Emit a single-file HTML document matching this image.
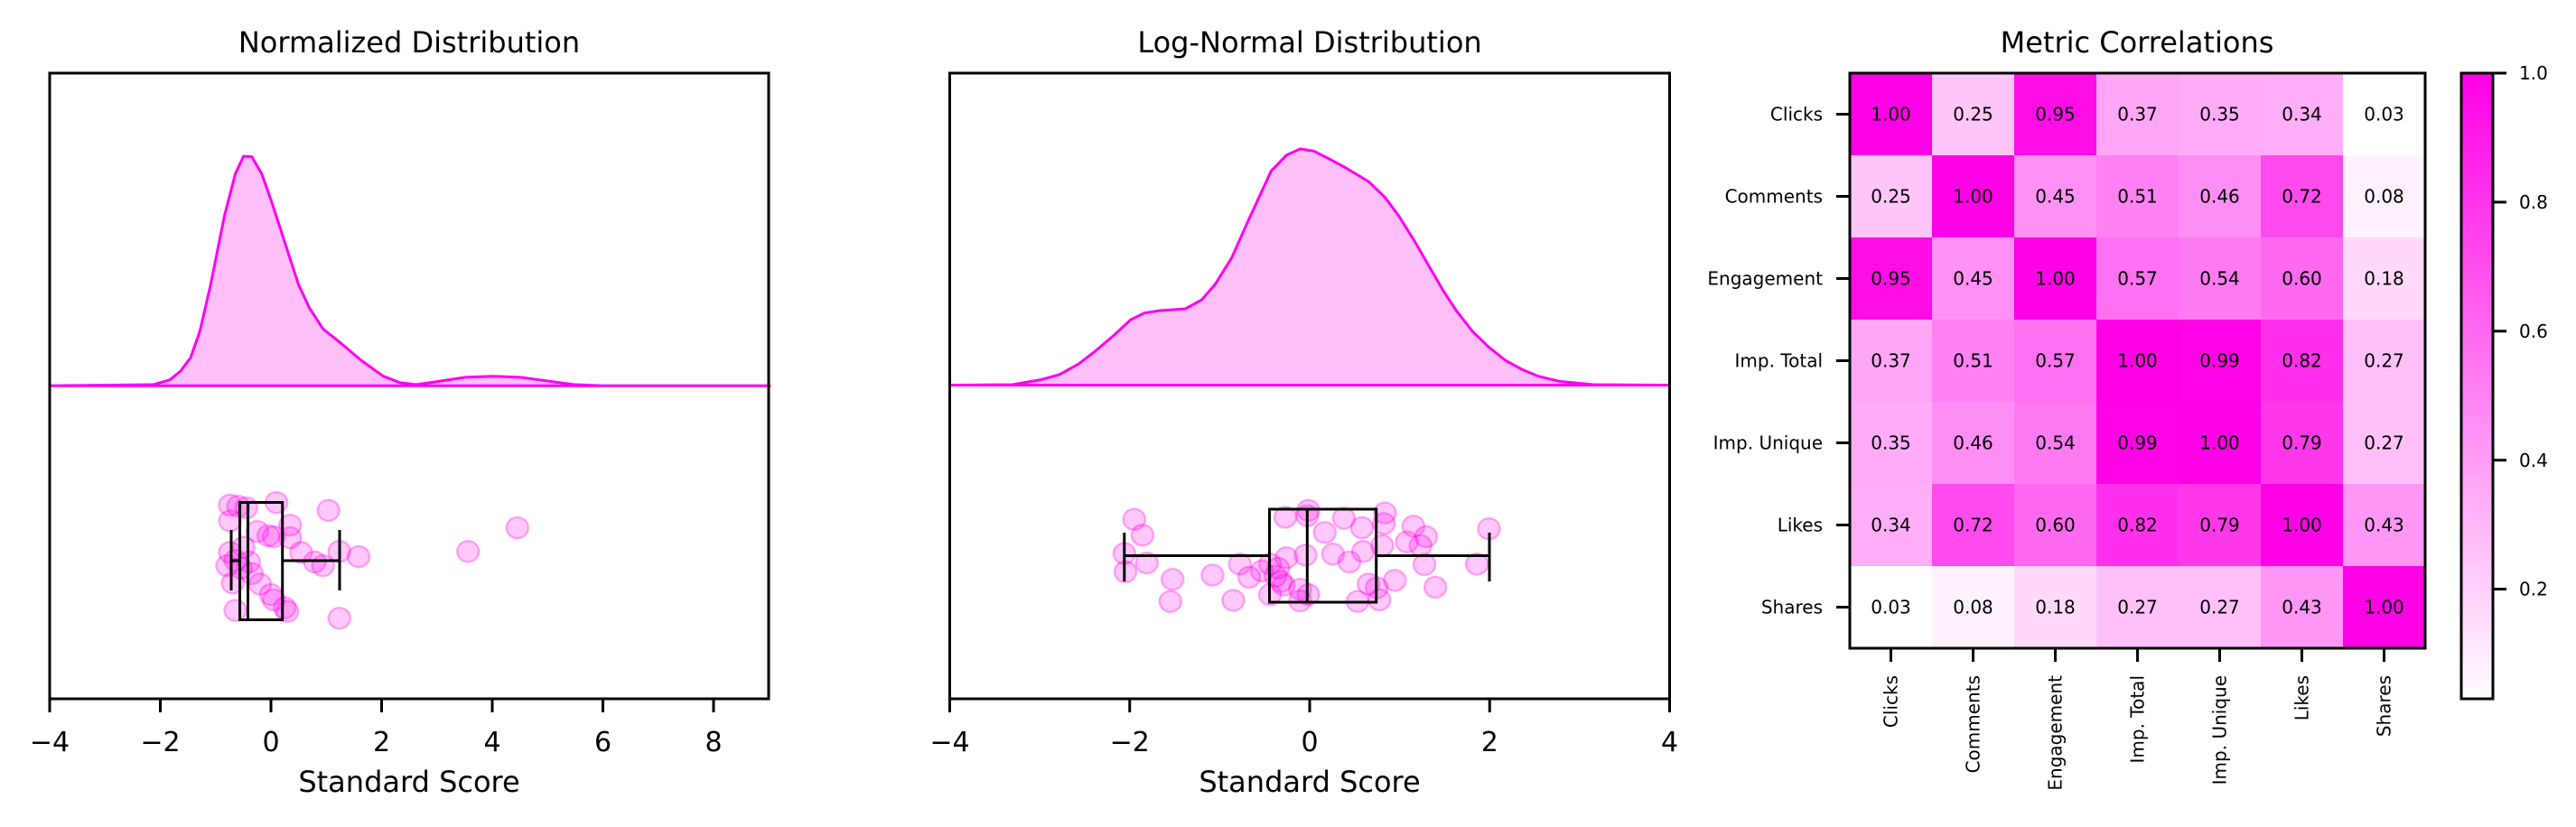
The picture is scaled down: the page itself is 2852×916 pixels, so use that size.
<!DOCTYPE html>
<html><head><meta charset="utf-8"><style>
html,body{margin:0;padding:0;background:#fff;}
svg{display:block;font-family:"DejaVu Sans","Liberation Sans",sans-serif;}
</style></head><body>
<svg width="2852" height="916" viewBox="0 0 2852 916" xmlns="http://www.w3.org/2000/svg">
<defs>
<linearGradient id="cb" x1="0" y1="1" x2="0" y2="0">
<stop offset="0" stop-color="#fffdff"/><stop offset="1" stop-color="#ff00e6"/>
</linearGradient>
</defs>
<rect width="2852" height="916" fill="#fff"/>

<!-- Panel 1 -->
<text x="453" y="58" font-size="32" text-anchor="middle">Normalized Distribution</text>
<g transform="scale(0.6061,0.5828)">
<path vector-effect="non-scaling-stroke" d="M91,733 L280,731 L310,722 L330,705 L348,680 L365,630 L385,540 L410,410 L430,330 L445,297 L460,298 L478,330 L495,380 L520,460 L545,540 L565,585 L590,625 L620,650 L660,685 L700,715 L730,727 L760,731 L800,725 L850,717 L900,715 L950,717 L1000,724 L1050,731 L1100,733 L1408,733 Z" fill="rgba(255,0,230,0.25)" stroke="#ff00f0" stroke-width="3"/>
<g fill="rgba(255,0,230,0.22)" stroke="rgba(255,0,230,0.3)" stroke-width="4">
<circle cx="420" cy="960" r="20"/><circle cx="435" cy="962" r="20"/><circle cx="450" cy="965" r="20"/><circle cx="505" cy="955" r="20"/><circle cx="600" cy="970" r="20"/><circle cx="530" cy="998" r="20"/><circle cx="420" cy="990" r="20"/><circle cx="470" cy="1010" r="20"/><circle cx="490" cy="1018" r="20"/><circle cx="500" cy="1020" r="20"/><circle cx="530" cy="1022" r="20"/><circle cx="945" cy="1003" r="20"/><circle cx="855" cy="1048" r="20"/><circle cx="655" cy="1058" r="20"/><circle cx="620" cy="1048" r="20"/><circle cx="575" cy="1068" r="20"/><circle cx="590" cy="1075" r="20"/><circle cx="550" cy="1050" r="20"/><circle cx="420" cy="1050" r="20"/><circle cx="430" cy="1065" r="20"/><circle cx="455" cy="1068" r="20"/><circle cx="460" cy="1090" r="20"/><circle cx="425" cy="1108" r="20"/><circle cx="475" cy="1110" r="20"/><circle cx="495" cy="1130" r="20"/><circle cx="500" cy="1140" r="20"/><circle cx="520" cy="1155" r="20"/><circle cx="525" cy="1162" r="20"/><circle cx="430" cy="1160" r="20"/><circle cx="620" cy="1175" r="20"/><circle cx="445" cy="1040" r="20"/><circle cx="440" cy="1080" r="20"/><circle cx="415" cy="1075" r="20"/>
</g>
</g>
<g stroke="#000" stroke-width="3" fill="none">
<rect x="265.5" y="556.5" width="47.2" height="130"/>
<line x1="274.5" y1="556.5" x2="274.5" y2="686.5"/>
<line x1="256" y1="621" x2="265.5" y2="621"/><line x1="312.7" y1="621" x2="376" y2="621"/>
<line x1="256" y1="587" x2="256" y2="654"/><line x1="376" y1="587" x2="376" y2="654"/>
<rect x="55" y="81" width="796" height="693"/>
<line x1="55" y1="774" x2="55" y2="789"/><line x1="177.5" y1="774" x2="177.5" y2="789"/><line x1="300" y1="774" x2="300" y2="789"/><line x1="422.5" y1="774" x2="422.5" y2="789"/><line x1="545" y1="774" x2="545" y2="789"/><line x1="667.5" y1="774" x2="667.5" y2="789"/><line x1="790" y1="774" x2="790" y2="789"/>
</g>
<g font-size="30" text-anchor="middle">
<text x="55" y="832">−4</text><text x="177.5" y="832">−2</text><text x="300" y="832">0</text><text x="422.5" y="832">2</text><text x="545" y="832">4</text><text x="667.5" y="832">6</text><text x="790" y="832">8</text>
</g>
<text x="453" y="877" font-size="32" text-anchor="middle">Standard Score</text>

<!-- Panel 2 -->
<text x="1450" y="58" font-size="32" text-anchor="middle">Log-Normal Distribution</text>
<g transform="translate(1000,0) scale(0.6061,0.5828)">
<path vector-effect="non-scaling-stroke" d="M85,732 L200,731 L250,722 L285,712 L320,692 L350,668 L385,637 L415,608 L440,595 L470,590 L515,587 L545,570 L570,540 L600,490 L630,420 L650,375 L672,325 L700,295 L725,283 L750,287 L780,303 L810,320 L850,345 L880,375 L905,410 L935,460 L960,505 L985,550 L1010,590 L1040,630 L1070,660 L1100,685 L1130,702 L1160,715 L1200,725 L1260,731 L1400,732 Z" fill="rgba(255,0,230,0.25)" stroke="#ff00f0" stroke-width="3"/>
<g fill="rgba(255,0,230,0.22)" stroke="rgba(255,0,230,0.3)" stroke-width="4">
<circle cx="422" cy="987" r="20"/><circle cx="437" cy="1017" r="20"/><circle cx="404" cy="1052" r="20"/><circle cx="445" cy="1070" r="20"/><circle cx="406" cy="1087" r="20"/><circle cx="492" cy="1101" r="20"/><circle cx="488" cy="1143" r="20"/><circle cx="565" cy="1093" r="20"/><circle cx="603" cy="1141" r="20"/><circle cx="615" cy="1072" r="20"/><circle cx="632" cy="1097" r="20"/><circle cx="655" cy="1085" r="20"/><circle cx="670" cy="1072" r="20"/><circle cx="685" cy="1080" r="20"/><circle cx="690" cy="1105" r="20"/><circle cx="680" cy="1095" r="20"/><circle cx="695" cy="1112" r="20"/><circle cx="700" cy="1060" r="20"/><circle cx="698" cy="983" r="20"/><circle cx="740" cy="970" r="20"/><circle cx="738" cy="980" r="20"/><circle cx="735" cy="1055" r="20"/><circle cx="740" cy="1130" r="20"/><circle cx="725" cy="1120" r="20"/><circle cx="725" cy="1142" r="20"/><circle cx="770" cy="1012" r="20"/><circle cx="785" cy="1053" r="20"/><circle cx="805" cy="985" r="20"/><circle cx="815" cy="1068" r="20"/><circle cx="838" cy="1003" r="20"/><circle cx="840" cy="1048" r="20"/><circle cx="880" cy="975" r="20"/><circle cx="878" cy="995" r="20"/><circle cx="875" cy="1037" r="20"/><circle cx="850" cy="1110" r="20"/><circle cx="865" cy="1117" r="20"/><circle cx="830" cy="1143" r="20"/><circle cx="870" cy="1140" r="20"/><circle cx="898" cy="1103" r="20"/><circle cx="932" cy="1000" r="20"/><circle cx="955" cy="1020" r="20"/><circle cx="920" cy="1030" r="20"/><circle cx="945" cy="1037" r="20"/><circle cx="952" cy="1073" r="20"/><circle cx="972" cy="1116" r="20"/><circle cx="1070" cy="1005" r="20"/><circle cx="1048" cy="1072" r="20"/><circle cx="670" cy="1130" r="20"/>
</g>
</g>
<g stroke="#000" stroke-width="3" fill="none">
<rect x="1405.5" y="564" width="118.2" height="103"/>
<line x1="1447.3" y1="564" x2="1447.3" y2="667"/>
<line x1="1244.8" y1="615.5" x2="1405.5" y2="615.5"/><line x1="1523.7" y1="615.5" x2="1649" y2="615.5"/>
<line x1="1244.8" y1="590" x2="1244.8" y2="644"/><line x1="1649" y1="590" x2="1649" y2="644"/>
<rect x="1051.5" y="81" width="797" height="693"/>
<line x1="1051.5" y1="774" x2="1051.5" y2="789"/><line x1="1250.75" y1="774" x2="1250.75" y2="789"/><line x1="1450" y1="774" x2="1450" y2="789"/><line x1="1649.25" y1="774" x2="1649.25" y2="789"/><line x1="1848.5" y1="774" x2="1848.5" y2="789"/>
</g>
<g font-size="30" text-anchor="middle">
<text x="1051.5" y="832">−4</text><text x="1250.75" y="832">−2</text><text x="1450" y="832">0</text><text x="1649.25" y="832">2</text><text x="1848.5" y="832">4</text>
</g>
<text x="1450" y="877" font-size="32" text-anchor="middle">Standard Score</text>

<!-- Heatmap -->
<text x="2366" y="58" font-size="32" text-anchor="middle">Metric Correlations</text>
<g>
<rect x="2048" y="81" width="91" height="91" fill="rgb(255,0,230)"/><rect x="2139" y="81" width="91" height="91" fill="rgb(255,197,249)"/><rect x="2230" y="81" width="91" height="91" fill="rgb(255,13,231)"/><rect x="2321" y="81" width="91" height="91" fill="rgb(255,166,246)"/><rect x="2412" y="81" width="91" height="91" fill="rgb(255,171,247)"/><rect x="2503" y="81" width="91" height="91" fill="rgb(255,173,247)"/><rect x="2594" y="81" width="91" height="91" fill="rgb(255,255,255)"/>
<rect x="2048" y="172" width="91" height="91" fill="rgb(255,197,249)"/><rect x="2139" y="172" width="91" height="91" fill="rgb(255,0,230)"/><rect x="2230" y="172" width="91" height="91" fill="rgb(255,145,244)"/><rect x="2321" y="172" width="91" height="91" fill="rgb(255,129,243)"/><rect x="2412" y="172" width="91" height="91" fill="rgb(255,142,244)"/><rect x="2503" y="172" width="91" height="91" fill="rgb(255,74,237)"/><rect x="2594" y="172" width="91" height="91" fill="rgb(255,242,254)"/>
<rect x="2048" y="263" width="91" height="91" fill="rgb(255,13,231)"/><rect x="2139" y="263" width="91" height="91" fill="rgb(255,145,244)"/><rect x="2230" y="263" width="91" height="91" fill="rgb(255,0,230)"/><rect x="2321" y="263" width="91" height="91" fill="rgb(255,113,241)"/><rect x="2412" y="263" width="91" height="91" fill="rgb(255,121,242)"/><rect x="2503" y="263" width="91" height="91" fill="rgb(255,105,240)"/><rect x="2594" y="263" width="91" height="91" fill="rgb(255,216,251)"/>
<rect x="2048" y="354" width="91" height="91" fill="rgb(255,166,246)"/><rect x="2139" y="354" width="91" height="91" fill="rgb(255,129,243)"/><rect x="2230" y="354" width="91" height="91" fill="rgb(255,113,241)"/><rect x="2321" y="354" width="91" height="91" fill="rgb(255,0,230)"/><rect x="2412" y="354" width="91" height="91" fill="rgb(255,3,230)"/><rect x="2503" y="354" width="91" height="91" fill="rgb(255,47,235)"/><rect x="2594" y="354" width="91" height="91" fill="rgb(255,192,249)"/>
<rect x="2048" y="445" width="91" height="91" fill="rgb(255,171,247)"/><rect x="2139" y="445" width="91" height="91" fill="rgb(255,142,244)"/><rect x="2230" y="445" width="91" height="91" fill="rgb(255,121,242)"/><rect x="2321" y="445" width="91" height="91" fill="rgb(255,3,230)"/><rect x="2412" y="445" width="91" height="91" fill="rgb(255,0,230)"/><rect x="2503" y="445" width="91" height="91" fill="rgb(255,55,235)"/><rect x="2594" y="445" width="91" height="91" fill="rgb(255,192,249)"/>
<rect x="2048" y="536" width="91" height="91" fill="rgb(255,173,247)"/><rect x="2139" y="536" width="91" height="91" fill="rgb(255,74,237)"/><rect x="2230" y="536" width="91" height="91" fill="rgb(255,105,240)"/><rect x="2321" y="536" width="91" height="91" fill="rgb(255,47,235)"/><rect x="2412" y="536" width="91" height="91" fill="rgb(255,55,235)"/><rect x="2503" y="536" width="91" height="91" fill="rgb(255,0,230)"/><rect x="2594" y="536" width="91" height="91" fill="rgb(255,150,245)"/>
<rect x="2048" y="627" width="91" height="91" fill="rgb(255,255,255)"/><rect x="2139" y="627" width="91" height="91" fill="rgb(255,242,254)"/><rect x="2230" y="627" width="91" height="91" fill="rgb(255,216,251)"/><rect x="2321" y="627" width="91" height="91" fill="rgb(255,192,249)"/><rect x="2412" y="627" width="91" height="91" fill="rgb(255,192,249)"/><rect x="2503" y="627" width="91" height="91" fill="rgb(255,150,245)"/><rect x="2594" y="627" width="91" height="91" fill="rgb(255,0,230)"/>
</g>
<g font-size="20" text-anchor="middle">
<text x="2093.5" y="133.5">1.00</text><text x="2184.5" y="133.5">0.25</text><text x="2275.5" y="133.5">0.95</text><text x="2366.5" y="133.5">0.37</text><text x="2457.5" y="133.5">0.35</text><text x="2548.5" y="133.5">0.34</text><text x="2639.5" y="133.5">0.03</text>
<text x="2093.5" y="224.5">0.25</text><text x="2184.5" y="224.5">1.00</text><text x="2275.5" y="224.5">0.45</text><text x="2366.5" y="224.5">0.51</text><text x="2457.5" y="224.5">0.46</text><text x="2548.5" y="224.5">0.72</text><text x="2639.5" y="224.5">0.08</text>
<text x="2093.5" y="315.5">0.95</text><text x="2184.5" y="315.5">0.45</text><text x="2275.5" y="315.5">1.00</text><text x="2366.5" y="315.5">0.57</text><text x="2457.5" y="315.5">0.54</text><text x="2548.5" y="315.5">0.60</text><text x="2639.5" y="315.5">0.18</text>
<text x="2093.5" y="406.5">0.37</text><text x="2184.5" y="406.5">0.51</text><text x="2275.5" y="406.5">0.57</text><text x="2366.5" y="406.5">1.00</text><text x="2457.5" y="406.5">0.99</text><text x="2548.5" y="406.5">0.82</text><text x="2639.5" y="406.5">0.27</text>
<text x="2093.5" y="497.5">0.35</text><text x="2184.5" y="497.5">0.46</text><text x="2275.5" y="497.5">0.54</text><text x="2366.5" y="497.5">0.99</text><text x="2457.5" y="497.5">1.00</text><text x="2548.5" y="497.5">0.79</text><text x="2639.5" y="497.5">0.27</text>
<text x="2093.5" y="588.5">0.34</text><text x="2184.5" y="588.5">0.72</text><text x="2275.5" y="588.5">0.60</text><text x="2366.5" y="588.5">0.82</text><text x="2457.5" y="588.5">0.79</text><text x="2548.5" y="588.5">1.00</text><text x="2639.5" y="588.5">0.43</text>
<text x="2093.5" y="679.5">0.03</text><text x="2184.5" y="679.5">0.08</text><text x="2275.5" y="679.5">0.18</text><text x="2366.5" y="679.5">0.27</text><text x="2457.5" y="679.5">0.27</text><text x="2548.5" y="679.5">0.43</text><text x="2639.5" y="679.5">1.00</text>
</g>
<g stroke="#000" stroke-width="3" fill="none">
<rect x="2048" y="81" width="637" height="637"/>
<line x1="2033" y1="126.5" x2="2048" y2="126.5"/><line x1="2033" y1="217.5" x2="2048" y2="217.5"/><line x1="2033" y1="308.5" x2="2048" y2="308.5"/><line x1="2033" y1="399.5" x2="2048" y2="399.5"/><line x1="2033" y1="490.5" x2="2048" y2="490.5"/><line x1="2033" y1="581.5" x2="2048" y2="581.5"/><line x1="2033" y1="672.5" x2="2048" y2="672.5"/>
<line x1="2093.5" y1="718" x2="2093.5" y2="733"/><line x1="2184.5" y1="718" x2="2184.5" y2="733"/><line x1="2275.5" y1="718" x2="2275.5" y2="733"/><line x1="2366.5" y1="718" x2="2366.5" y2="733"/><line x1="2457.5" y1="718" x2="2457.5" y2="733"/><line x1="2548.5" y1="718" x2="2548.5" y2="733"/><line x1="2639.5" y1="718" x2="2639.5" y2="733"/>
</g>
<g font-size="20" text-anchor="end">
<text x="2018" y="133.5">Clicks</text><text x="2018" y="224.5">Comments</text><text x="2018" y="315.5">Engagement</text><text x="2018" y="406.5">Imp. Total</text><text x="2018" y="497.5">Imp. Unique</text><text x="2018" y="588.5">Likes</text><text x="2018" y="679.5">Shares</text>
</g>
<g font-size="20" text-anchor="end">
<text transform="translate(2100.5,748) rotate(-90)">Clicks</text><text transform="translate(2191.5,748) rotate(-90)">Comments</text><text transform="translate(2282.5,748) rotate(-90)">Engagement</text><text transform="translate(2373.5,748) rotate(-90)">Imp. Total</text><text transform="translate(2464.5,748) rotate(-90)">Imp. Unique</text><text transform="translate(2555.5,748) rotate(-90)">Likes</text><text transform="translate(2646.5,748) rotate(-90)">Shares</text>
</g>

<!-- Colorbar -->
<rect x="2725" y="81" width="35" height="693" fill="url(#cb)" stroke="#000" stroke-width="3"/>
<g stroke="#000" stroke-width="3">
<line x1="2760" y1="81" x2="2775" y2="81"/><line x1="2760" y1="223.9" x2="2775" y2="223.9"/><line x1="2760" y1="366.8" x2="2775" y2="366.8"/><line x1="2760" y1="509.7" x2="2775" y2="509.7"/><line x1="2760" y1="652.5" x2="2775" y2="652.5"/>
</g>
<g font-size="20">
<text x="2789" y="88">1.0</text><text x="2789" y="231">0.8</text><text x="2789" y="374">0.6</text><text x="2789" y="517">0.4</text><text x="2789" y="659.5">0.2</text>
</g>
</svg>
</body></html>
